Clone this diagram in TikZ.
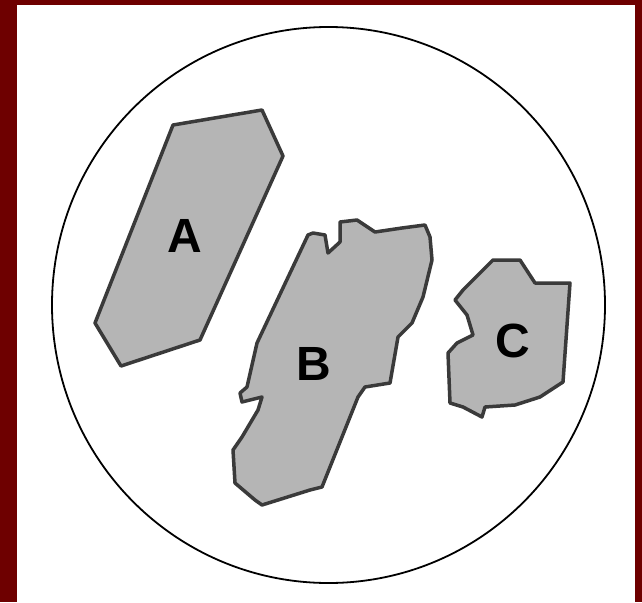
\documentclass[tikz,border=0pt]{standalone}
\usepackage{fontspec}
\setmainfont{Liberation Sans}
\definecolor{frame}{HTML}{6E0000}
\definecolor{blobfill}{HTML}{B5B5B5}
\definecolor{blobline}{HTML}{3A3A3A}
\begin{document}
\begin{tikzpicture}[x=1pt,y=-1pt,
  blob/.style={fill=blobfill,draw=blobline,line width=3.5pt,line join=round},
  letter/.style={font=\fontsize{48}{48}\selectfont\bfseries,text=black,inner sep=0pt}]
\useasboundingbox (0,0) rectangle (642,602);
\fill[frame] (0,0) rectangle (642,602);
\fill[white] (17,5) rectangle (635,602);
\draw[black,line width=1.8pt] (328.5,305) ellipse [x radius=276.5, y radius=278];
% A
\draw[blob] (173,125) -- (262,110) -- (283,156) -- (200,340) -- (121,366) -- (95,323) -- cycle;
% B
\draw[blob] (313,233) -- (325,235) -- (328,253) -- (340,242) -- (340,222) -- (357,220)
  -- (375,232) -- (402,228) -- (425,225) -- (430,237) -- (432,260) -- (423,297)
  -- (412,323) -- (398,337) -- (390,383) -- (365,387) -- (358,397) -- (322,487)
  -- (310,490) -- (262,505) -- (255,500) -- (235,483) -- (233,450) -- (242,437)
  -- (258,410) -- (262,397) -- (242,402) -- (240,393) -- (247,387) -- (257,343)
  -- (282,290) -- (308,235) -- cycle;
% C
\draw[blob] (493,260) -- (520,260) -- (535,283) -- (570,283) -- (563,382)
  -- (540,397) -- (515,405) -- (485,407) -- (482,417) -- (463,407) -- (450,403)
  -- (448,353) -- (457,343) -- (473,335) -- (467,315) -- (455,300) -- (463,290) -- cycle;
\node[letter] (labA) at (185,236) {A};
\node[letter] (labB) at (314,364) {B};
\node[letter] (labC) at (513,341) {C};
\end{tikzpicture}
\end{document}
